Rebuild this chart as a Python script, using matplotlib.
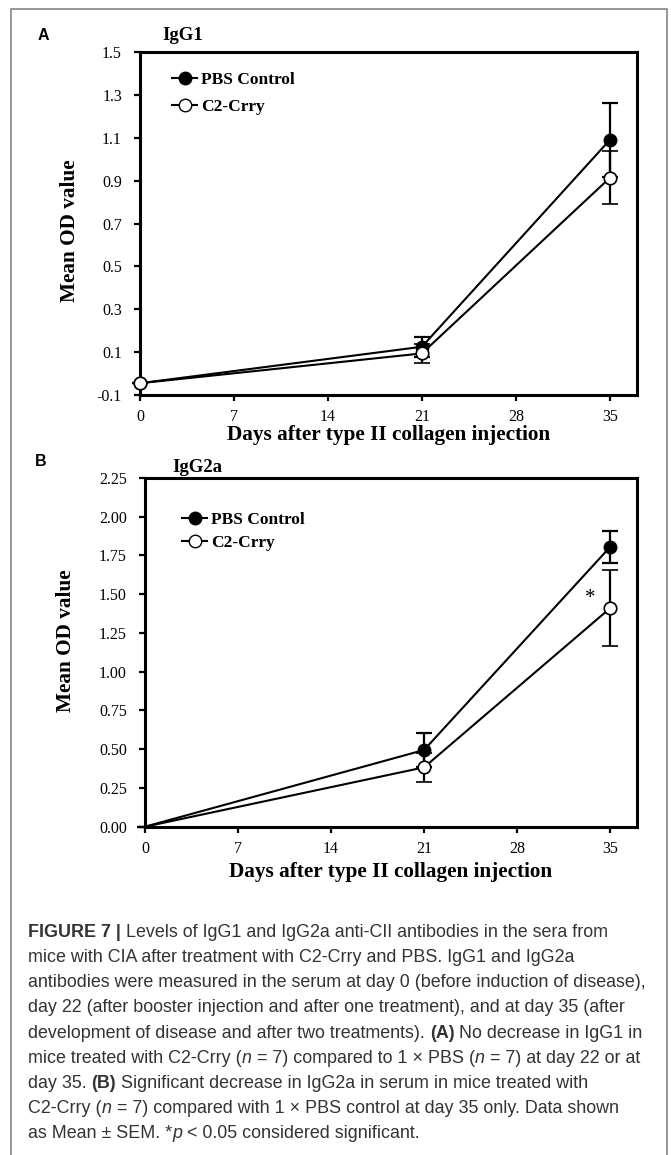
import matplotlib
matplotlib.use("Agg")
import matplotlib.pyplot as plt
from matplotlib.lines import Line2D
from matplotlib.patches import Rectangle

days = [0, 21, 35]

# panel A, IgG1
igg1_pbs = [-0.045, 0.125, 1.09]
igg1_pbs_sem = [0.0, 0.047, 0.174]
igg1_c2 = [-0.045, 0.094, 0.913]
igg1_c2_sem = [0.0, 0.046, 0.123]

# panel B, IgG2a
igg2a_pbs = [0.0, 0.495, 1.805]
igg2a_pbs_sem = [0.0, 0.108, 0.105]
igg2a_c2 = [0.0, 0.383, 1.41]
igg2a_c2_sem = [0.0, 0.093, 0.245]

xticks = [0, 7, 14, 21, 28, 35]
yticks_a = [-0.1, 0.1, 0.3, 0.5, 0.7, 0.9, 1.1, 1.3, 1.5]
yticks_b = [0.0, 0.25, 0.5, 0.75, 1.0, 1.25, 1.5, 1.75, 2.0, 2.25]
series_labels = ["PBS Control", "C2-Crry"]

caption_lines = [
    [("FIGURE 7 | ", "bold"), ("Levels of IgG1 and IgG2a anti-CII antibodies in the sera from", "normal")],
    [("mice with CIA after treatment with C2-Crry and PBS. IgG1 and IgG2a", "normal")],
    [("antibodies were measured in the serum at day 0 (before induction of disease),", "normal")],
    [("day 22 (after booster injection and after one treatment), and at day 35 (after", "normal")],
    [("development of disease and after two treatments). ", "normal"), ("(A)", "bold"),
     (" No decrease in IgG1 in", "normal")],
    [("mice treated with C2-Crry (", "normal"), ("n", "italic"), (" = 7) compared to 1 \u00d7 PBS (", "normal"),
     ("n", "italic"), (" = 7) at day 22 or at", "normal")],
    [("day 35. ", "normal"), ("(B)", "bold"), (" Significant decrease in IgG2a in serum in mice treated with", "normal")],
    [("C2-Crry (", "normal"), ("n", "italic"), (" = 7) compared with 1 \u00d7 PBS control at day 35 only. Data shown", "normal")],
    [("as Mean \u00b1 SEM. *", "normal"), ("p", "italic"), (" < 0.05 considered significant.", "normal")],
]

W, H = 671, 1155
SERIF = "Liberation Serif"
SANS = "Liberation Sans"

fig = plt.figure(figsize=(W / 100, H / 100), dpi=100)


def px_box(left, top, right, bottom):
    return [left / W, 1 - bottom / H, (right - left) / W, (bottom - top) / H]


def style_axes(ax, ylim, yticks, yfmt):
    ax.set_xlim(0, 37)
    ax.set_ylim(*ylim)
    ax.set_xticks(xticks)
    ax.set_yticks(yticks)
    ax.set_yticklabels([yfmt.format(v) for v in yticks])
    for s in ax.spines.values():
        s.set_linewidth(2.2)
    ax.tick_params(direction="out", length=4, width=1.6, labelsize=11.5)
    ax.tick_params(axis="y", pad=9)
    ax.tick_params(axis="x", pad=6)
    for lab in ax.get_xticklabels() + ax.get_yticklabels():
        lab.set_fontfamily(SERIF)
    ax.set_xlabel("Days after type II collagen injection", fontfamily=SERIF,
                  fontweight="bold", fontsize=15.3)
    ax.set_ylabel("Mean OD value", fontfamily=SERIF, fontweight="bold", fontsize=15.3)


def draw_series(ax, pbs, pbs_sem, c2, c2_sem, skip_first):
    mk = [1, 2] if skip_first else None
    ax.errorbar(days, pbs, yerr=pbs_sem, color="black", lw=1.5, marker="o", ms=9,
                mfc="black", mec="black", capsize=6, capthick=1.6, elinewidth=1.6,
                markevery=mk, clip_on=False, zorder=3)
    ax.errorbar(days, c2, yerr=c2_sem, color="black", lw=1.5, marker="o", ms=9,
                mfc="white", mec="black", mew=1.2, capsize=6, capthick=1.6, elinewidth=1.6,
                markevery=mk, clip_on=False, zorder=4)


def add_legend(ax, anchor, spacing):
    handles = [
        Line2D([], [], color="black", lw=1.5, marker="o", ms=9, mfc="black", mec="black"),
        Line2D([], [], color="black", lw=1.5, marker="o", ms=9, mfc="white", mec="black"),
    ]
    ax.legend(handles, series_labels, loc="upper left", bbox_to_anchor=anchor,
              frameon=False, handlelength=1.45, handletextpad=0.25, labelspacing=spacing,
              borderaxespad=0, prop={"family": SERIF, "weight": "bold", "size": 12.5})


# panel A
ax1 = fig.add_axes(px_box(140, 52, 636.7, 395))
draw_series(ax1, igg1_pbs, igg1_pbs_sem, igg1_c2, igg1_c2_sem, False)
style_axes(ax1, (-0.1, 1.5), yticks_a, "{:.1f}")
ax1.yaxis.set_label_coords(-0.12, 0.478)
ax1.xaxis.set_label_coords(0.5, -0.088)
add_legend(ax1, ((165 - 140) / 496.7, (395 - 65) / 343), 0.6)

# panel B
ax2 = fig.add_axes(px_box(145, 478, 636.7, 826.7))
draw_series(ax2, igg2a_pbs, igg2a_pbs_sem, igg2a_c2, igg2a_c2_sem, True)
style_axes(ax2, (0, 2.25), yticks_b, "{:.2f}")
ax2.yaxis.set_label_coords(-0.14, 0.533)
ax2.xaxis.set_label_coords(0.5, -0.1)
add_legend(ax2, ((175 - 145) / 491.7, (826.7 - 505) / 348.7), 0.4)
ax2.text(33.5, 1.47, "*", fontfamily=SERIF, fontsize=15, ha="center", va="center")

# panel letters and titles
fig.text(38 / W, 1 - 36 / H, "A", fontfamily=SANS, fontweight="bold", fontsize=11.5, va="center")
fig.text(162 / W, 1 - 36 / H, "IgG1", fontfamily=SERIF, fontweight="bold", fontsize=13.5, va="center")
fig.text(35 / W, 1 - 461 / H, "B", fontfamily=SANS, fontweight="bold", fontsize=11.5, va="center")
fig.text(172 / W, 1 - 468 / H, "IgG2a", fontfamily=SERIF, fontweight="bold", fontsize=13.5, va="center")

# outer frame
fig.patches.append(Rectangle((10.7 / W, -0.02), (666.7 - 10.7) / W, 1.02 - 9.3 / H,
                             transform=fig.transFigure, fill=False, ec="#7a7a7a", lw=1.1))

# caption, drawn run by run so bold/italic pieces sit inline
renderer = fig.canvas.get_renderer()
cap_size = 12.9


def run_width(txt, weight, style):
    probe = fig.text(0, 0, "x" + txt + "x", fontfamily=SANS, fontsize=cap_size,
                     fontweight=weight, fontstyle=style)
    base = fig.text(0, 0, "xx", fontfamily=SANS, fontsize=cap_size,
                    fontweight=weight, fontstyle=style)
    w = probe.get_window_extent(renderer).width - base.get_window_extent(renderer).width
    probe.remove()
    base.remove()
    return w


for i, line in enumerate(caption_lines):
    x = 28.0
    y = 936.7 + 25.2 * i
    for txt, kind in line:
        weight = "bold" if kind == "bold" else "normal"
        style = "italic" if kind == "italic" else "normal"
        fig.text(x / W, 1 - y / H, txt, fontfamily=SANS, fontsize=cap_size, fontweight=weight,
                 fontstyle=style, color="#333333", va="baseline", ha="left")
        x += run_width(txt, weight, style)

fig.savefig("out.png", dpi=100)
